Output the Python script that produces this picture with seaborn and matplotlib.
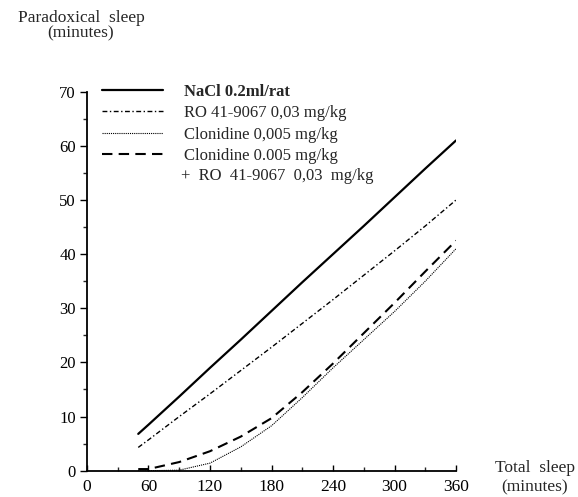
"""Paradoxical sleep vs total sleep, four treatment groups."""

import matplotlib

matplotlib.use("Agg")

import matplotlib.pyplot as plt
import pandas as pd
import seaborn as sns
from matplotlib.ticker import MultipleLocator

# total sleep (minutes) at which each curve was read
total_sleep = [50, 60, 90, 120, 150, 180, 210, 240, 270, 300, 330, 360]

nacl = [6.8, 8.5, 13.7, 19.0, 24.2, 29.5, 34.8, 40.0, 45.2, 50.5, 55.8, 61.0]
ro = [4.3, 5.7, 10.0, 14.2, 18.5, 22.8, 27.2, 31.6, 36.1, 40.6, 45.2, 50.0]
clonidine = [0.0, 0.0, 0.1, 1.4, 4.4, 8.3, 13.5, 19.0, 24.2, 29.4, 35.0, 41.0]
clon_ro = [0.3, 0.3, 1.6, 3.6, 6.3, 9.7, 14.5, 19.8, 25.4, 31.0, 36.8, 42.5]

labels = [
    "NaCl 0.2ml/rat",
    "RO 41-9067 0,03 mg/kg",
    "Clonidine 0,005 mg/kg",
    "Clonidine 0.005 mg/kg",
]

styles = [
    dict(lw=1.6, dashes=(None, None)),
    dict(lw=1.0, dashes=(3.5, 1.8, 1.0, 1.8)),
    dict(lw=0.8, dashes=(1.0, 0.9)),
    dict(lw=1.5, dashes=(5.0, 3.0)),
]

sns.set_theme(style="ticks")
plt.rcParams["font.family"] = ["Liberation Serif", "DejaVu Serif"]

fig = plt.figure(figsize=(5.78, 4.97), dpi=100)
ax = fig.add_axes([0.1505, 0.0529, 0.6385, 0.7626])

for series, label, st in zip([nacl, ro, clonidine, clon_ro], labels, styles):
    df = pd.DataFrame({"total": total_sleep, "ps": series})
    sns.lineplot(data=df, x="total", y="ps", ax=ax, color="black", label=label,
                 lw=st["lw"])
    line = ax.lines[-1]
    if st["dashes"][0] is not None:
        line.set_dashes(st["dashes"])

ax.set_xlim(0, 360)
ax.set_ylim(0, 70)
ax.set_xlabel("")
ax.set_ylabel("")
sns.despine(ax=ax)
for sp in ["left", "bottom"]:
    ax.spines[sp].set_linewidth(1.3)
    ax.spines[sp].set_color("black")

ax.xaxis.set_major_locator(MultipleLocator(60))
ax.xaxis.set_minor_locator(MultipleLocator(30))
ax.yaxis.set_major_locator(MultipleLocator(10))
ax.yaxis.set_minor_locator(MultipleLocator(5))
ax.tick_params(axis="x", which="major", direction="in", length=4, width=1, pad=6,
               labelsize=12.5, colors="black")
ax.tick_params(axis="x", which="minor", direction="in", length=3, width=1)
ax.tick_params(axis="y", which="major", direction="out", length=5, width=1, pad=3,
               labelsize=12, colors="black")
ax.tick_params(axis="y", which="minor", direction="out", length=3, width=1)

leg = ax.legend(
    loc="upper left",
    bbox_to_anchor=(0.176, 0.831),
    bbox_transform=fig.transFigure,
    frameon=False,
    fontsize=12,
    handlelength=3.7,
    handletextpad=1.25,
    labelspacing=0.32,
    borderpad=0,
    borderaxespad=0,
)
leg.get_texts()[0].set_fontweight("bold")

fig.text(0.314, 0.645, "+  RO  41-9067  0,03  mg/kg", fontsize=12, va="center")

fig.text(0.14, 0.963, "Paradoxical  sleep", fontsize=12.5, ha="center", va="center")
fig.text(0.14, 0.932, "(minutes)", fontsize=12.5, ha="center", va="center")
fig.text(0.925, 0.058, "Total  sleep", fontsize=12.5, ha="center", va="center")
fig.text(0.925, 0.02, "(minutes)", fontsize=12.5, ha="center", va="center")

fig.savefig("out.png", dpi=100)
